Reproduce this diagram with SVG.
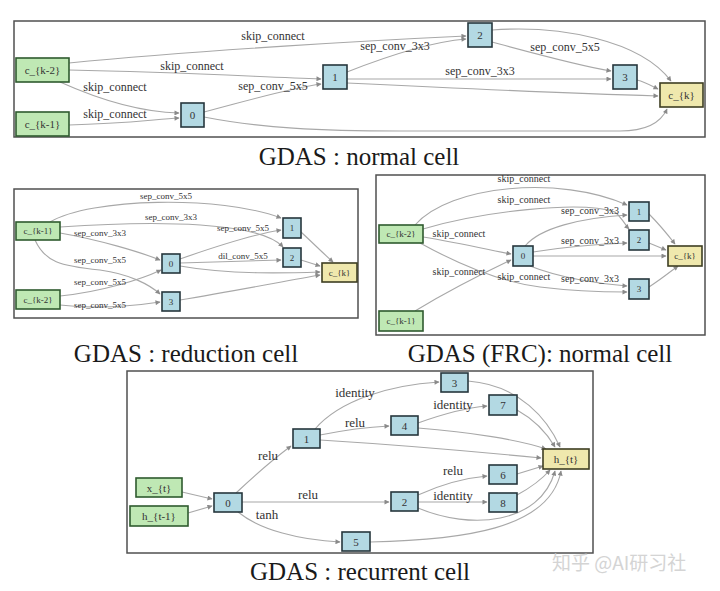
<svg xmlns="http://www.w3.org/2000/svg" width="720" height="591" viewBox="0 0 720 591">
<defs>
<marker id="ah" viewBox="0 0 10 10" refX="9" refY="5" markerWidth="6" markerHeight="5" markerUnits="userSpaceOnUse" orient="auto">
<path d="M0,0 L10,5 L0,10 z" fill="#8a8a8a"/>
</marker>
<style>
.frame{fill:#ffffff;stroke:#505050;stroke-width:1.5}
.e{fill:none;stroke:#a8a8a8;stroke-width:1.1;marker-end:url(#ah)}
.op{fill:#b3d9e3;stroke:#26363c;stroke-width:1.6}
.inp{fill:#bfe8b4;stroke:#2f5a2f;stroke-width:1.6}
.out{fill:#efe8ad;stroke:#3e3e22;stroke-width:1.6}
text{font-family:"Liberation Serif","Times New Roman",serif;fill:#333333;text-anchor:middle}
.t{font-size:25px;fill:#1a1a1a}
.l1{font-size:12px}
.l2{font-size:9px}
.l3{font-size:10px}
.l4{font-size:13px}
.n1{font-size:11px}
.n2{font-size:9px}
.wm{font-family:"Noto Sans CJK SC",sans-serif;font-size:19px;fill:#d4d4d4;text-anchor:start}
</style>
</defs>
<rect width="720" height="591" fill="#ffffff"/>

<!-- Frames -->
<rect class="frame" x="14" y="21" width="691" height="116"/>
<rect class="frame" x="14" y="189" width="344" height="129"/>
<rect class="frame" x="376" y="175" width="329" height="160"/>
<rect class="frame" x="127" y="371" width="466" height="182"/>

<!-- Connectors -->
<g id="connectors">
<!-- top: normal cell -->
<path class="e" d="M69,63 C200,50 380,40 466,36"/>
<path class="e" d="M69,70 C180,72 260,77 321,79"/>
<path class="e" d="M60,82 C100,100 140,112 179,113"/>
<path class="e" d="M69,125 C120,124 150,120 179,118"/>
<path class="e" d="M204,112 C250,100 290,88 321,84"/>
<path class="e" d="M347,72 C390,55 430,42 466,39"/>
<path class="e" d="M492,42 C540,55 580,66 611,71"/>
<path class="e" d="M347,79 C450,79 550,79 611,79"/>
<path class="e" d="M347,83 C450,88 560,93 658,96"/>
<path class="e" d="M204,117 C260,128 320,131 400,131 L620,131 C650,131 662,120 667,109"/>
<path class="e" d="M492,30 C560,25 640,40 671,81"/>
<path class="e" d="M637,80 C645,82 652,86 658,89"/>
<!-- middle-left: reduction cell -->
<path class="e" d="M50,222 C90,198 220,195 281,218"/>
<path class="e" d="M60,227 C160,220 260,222 283,247"/>
<path class="e" d="M60,233 C100,240 140,252 160,260"/>
<path class="e" d="M180,259 C220,245 255,234 281,230"/>
<path class="e" d="M180,263 C220,262 255,261 281,260"/>
<path class="e" d="M180,266 C230,275 290,273 320,272"/>
<path class="e" d="M35,240 C45,262 60,266 100,270 C130,274 150,285 160,294"/>
<path class="e" d="M60,296 C100,292 140,280 161,270"/>
<path class="e" d="M60,305 C100,310 140,305 160,302"/>
<path class="e" d="M301,232 C315,245 325,255 333,262"/>
<path class="e" d="M301,260 L320,266"/>
<path class="e" d="M180,300 C240,290 290,280 320,275"/>
<!-- middle-right: FRC normal cell -->
<path class="e" d="M415,225 C450,185 560,175 627,205"/>
<path class="e" d="M423,229 C480,212 580,200 615,212 C622,218 626,226 629,229"/>
<path class="e" d="M525,246 C540,228 580,218 627,215"/>
<path class="e" d="M533,252 C570,246 600,244 627,243"/>
<path class="e" d="M423,237 C460,243 490,250 511,254"/>
<path class="e" d="M415,311 C450,290 490,270 511,260"/>
<path class="e" d="M420,243 C460,265 500,282 540,287 C580,292 610,292 627,292"/>
<path class="e" d="M530,266 C560,278 600,284 627,286"/>
<path class="e" d="M533,256 L666,256"/>
<path class="e" d="M649,214 C660,225 668,235 675,244"/>
<path class="e" d="M649,243 L666,250"/>
<path class="e" d="M649,287 C660,280 670,272 678,266"/>
<!-- bottom: recurrent cell -->
<path class="e" d="M182,492 L212,499"/>
<path class="e" d="M188,513 L212,506"/>
<path class="e" d="M236,493 C255,475 275,458 291,446"/>
<path class="e" d="M242,502 L389,502"/>
<path class="e" d="M238,512 C260,530 300,540 340,542"/>
<path class="e" d="M315,429 C340,400 390,385 439,382"/>
<path class="e" d="M320,435 C345,430 370,427 389,426"/>
<path class="e" d="M320,440 C400,445 480,452 541,458"/>
<path class="e" d="M418,423 C440,415 465,408 487,406"/>
<path class="e" d="M418,428 C470,432 520,440 546,449"/>
<path class="e" d="M468,381 C520,385 548,420 560,447"/>
<path class="e" d="M517,410 C535,420 548,435 555,447"/>
<path class="e" d="M418,495 C440,485 465,478 487,476"/>
<path class="e" d="M418,502 L487,502"/>
<path class="e" d="M517,474 L543,466"/>
<path class="e" d="M517,495 C530,488 543,478 550,470"/>
<path class="e" d="M418,508 C470,530 540,525 555,471"/>
<path class="e" d="M370,542 C460,540 550,530 561,471"/>
</g>

<!-- Edge labels -->
<g id="edge-labels">
<text class="l1" x="273" y="40">skip_connect</text>
<text class="l1" x="192" y="70">skip_connect</text>
<text class="l1" x="115" y="91">skip_connect</text>
<text class="l1" x="115" y="118">skip_connect</text>
<text class="l1" x="273" y="90">sep_conv_5x5</text>
<text class="l1" x="395" y="50">sep_conv_3x3</text>
<text class="l1" x="565" y="51">sep_conv_5x5</text>
<text class="l1" x="480" y="75">sep_conv_3x3</text>

<text class="l2" x="166" y="199">sep_conv_5x5</text>
<text class="l2" x="171" y="220">sep_conv_3x3</text>
<text class="l2" x="100" y="236">sep_conv_3x3</text>
<text class="l2" x="243" y="231">sep_conv_5x5</text>
<text class="l2" x="243" y="259">dil_conv_5x5</text>
<text class="l2" x="100" y="263">sep_conv_5x5</text>
<text class="l2" x="100" y="285">sep_conv_5x5</text>
<text class="l2" x="100" y="308">sep_conv_5x5</text>

<text class="l3" x="524" y="182">skip_connect</text>
<text class="l3" x="524" y="203">skip_connect</text>
<text class="l3" x="590" y="214">sep_conv_3x3</text>
<text class="l3" x="590" y="244">sep_conv_3x3</text>
<text class="l3" x="459" y="237">skip_connect</text>
<text class="l3" x="459" y="275">skip_connect</text>
<text class="l3" x="524" y="280">skip_connect</text>
<text class="l3" x="590" y="282">sep_conv_3x3</text>

<text class="l4" x="355" y="397">identity</text>
<text class="l4" x="355" y="427">relu</text>
<text class="l4" x="268" y="460">relu</text>
<text class="l4" x="308" y="499">relu</text>
<text class="l4" x="267" y="519">tanh</text>
<text class="l4" x="453" y="409">identity</text>
<text class="l4" x="453" y="475">relu</text>
<text class="l4" x="453" y="500">identity</text>
</g>

<!-- Top: normal cell nodes -->
<g id="t-ck2"><rect class="inp" x="16" y="58" width="53" height="24"/><text class="n1" x="42.5" y="74">c_{k-2}</text></g>
<g id="t-ck1"><rect class="inp" x="16" y="112" width="53" height="24"/><text class="n1" x="42.5" y="128">c_{k-1}</text></g>
<g id="t-n0"><rect class="op" x="181" y="103" width="23" height="24"/><text class="n1" x="192.5" y="119">0</text></g>
<g id="t-n1"><rect class="op" x="323" y="65" width="24" height="24"/><text class="n1" x="335" y="81">1</text></g>
<g id="t-n2"><rect class="op" x="468" y="23" width="24" height="24"/><text class="n1" x="480" y="39">2</text></g>
<g id="t-n3"><rect class="op" x="613" y="65" width="24" height="24"/><text class="n1" x="625" y="81">3</text></g>
<g id="t-ck"><rect class="out" x="660" y="83" width="43" height="24"/><text class="n1" x="681.5" y="99">c_{k}</text></g>

<!-- Middle-left: reduction cell nodes -->
<g id="r-ck1"><rect class="inp" x="16" y="222" width="44" height="18"/><text class="n2" x="38" y="234">c_{k-1}</text></g>
<g id="r-ck2"><rect class="inp" x="16" y="290" width="44" height="19"/><text class="n2" x="38" y="302.5">c_{k-2}</text></g>
<g id="r-n0"><rect class="op" x="162" y="254" width="18" height="19"/><text class="n2" x="171" y="266.5">0</text></g>
<g id="r-n1"><rect class="op" x="283" y="218" width="18" height="20"/><text class="n2" x="292" y="231">1</text></g>
<g id="r-n2"><rect class="op" x="283" y="248" width="18" height="19"/><text class="n2" x="292" y="260.5">2</text></g>
<g id="r-n3"><rect class="op" x="162" y="292" width="18" height="19"/><text class="n2" x="171" y="304.5">3</text></g>
<g id="r-ck"><rect class="out" x="322" y="263" width="35" height="19"/><text class="n2" x="339.5" y="275.5">c_{k}</text></g>

<!-- Middle-right: FRC normal cell nodes -->
<g id="f-ck2"><rect class="inp" x="379" y="225" width="44" height="18"/><text class="n2" x="401" y="237">c_{k-2}</text></g>
<g id="f-ck1"><rect class="inp" x="379" y="311" width="44" height="20"/><text class="n2" x="401" y="324">c_{k-1}</text></g>
<g id="f-n0"><rect class="op" x="513" y="246" width="20" height="20"/><text class="n2" x="523" y="259">0</text></g>
<g id="f-n1"><rect class="op" x="629" y="202" width="20" height="19"/><text class="n2" x="639" y="214.5">1</text></g>
<g id="f-n2"><rect class="op" x="629" y="230" width="20" height="20"/><text class="n2" x="639" y="243">2</text></g>
<g id="f-n3"><rect class="op" x="629" y="279" width="20" height="20"/><text class="n2" x="639" y="292">3</text></g>
<g id="f-ck"><rect class="out" x="668" y="246" width="34" height="20"/><text class="n2" x="685" y="259">c_{k}</text></g>

<!-- Bottom: recurrent cell nodes -->
<g id="c-xt"><rect class="inp" x="136" y="478" width="46" height="19"/><text class="n1" x="159" y="491.5">x_{t}</text></g>
<g id="c-ht1"><rect class="inp" x="130" y="506" width="58" height="20"/><text class="n1" x="159" y="520">h_{t-1}</text></g>
<g id="c-n0"><rect class="op" x="214" y="493" width="28" height="19"/><text class="n1" x="228" y="506.5">0</text></g>
<g id="c-n1"><rect class="op" x="293" y="429" width="27" height="19"/><text class="n1" x="306.5" y="442.5">1</text></g>
<g id="c-n2"><rect class="op" x="391" y="492" width="27" height="19"/><text class="n1" x="404.5" y="505.5">2</text></g>
<g id="c-n3"><rect class="op" x="441" y="373" width="27" height="19"/><text class="n1" x="454.5" y="386.5">3</text></g>
<g id="c-n4"><rect class="op" x="391" y="416" width="27" height="19"/><text class="n1" x="404.5" y="429.5">4</text></g>
<g id="c-n5"><rect class="op" x="342" y="532" width="28" height="19"/><text class="n1" x="356" y="545.5">5</text></g>
<g id="c-n6"><rect class="op" x="489" y="465" width="28" height="19"/><text class="n1" x="503" y="478.5">6</text></g>
<g id="c-n7"><rect class="op" x="489" y="395" width="28" height="20"/><text class="n1" x="503" y="409">7</text></g>
<g id="c-n8"><rect class="op" x="489" y="493" width="28" height="19"/><text class="n1" x="503" y="506.5">8</text></g>
<g id="c-ht"><rect class="out" x="543" y="449" width="46" height="20"/><text class="n1" x="566" y="463">h_{t}</text></g>

<!-- Titles -->
<text class="t" x="359" y="165">GDAS : normal cell</text>
<text class="t" x="186" y="362">GDAS : reduction cell</text>
<text class="t" x="540" y="362">GDAS (FRC): normal cell</text>
<text class="t" x="360" y="580">GDAS : recurrent cell</text>

<text class="wm" x="552" y="570">知乎 @AI研习社</text>
</svg>
